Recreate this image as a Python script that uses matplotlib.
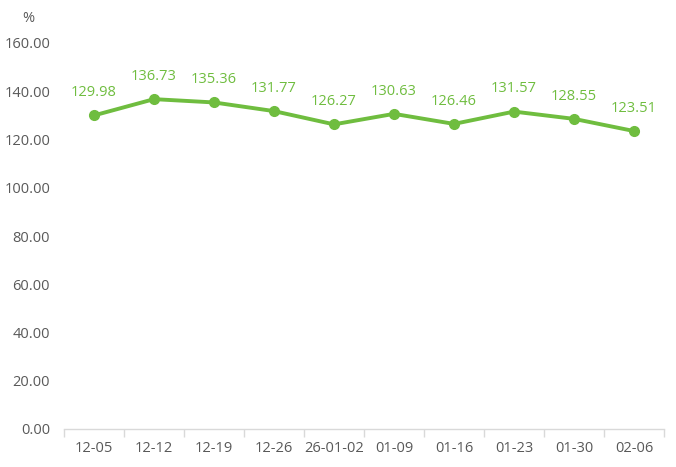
import matplotlib
matplotlib.use('Agg')
import matplotlib.pyplot as plt

dates = ['12-05', '12-12', '12-19', '12-26', '26-01-02', '01-09', '01-16', '01-23', '01-30', '02-06']
values = [129.98, 136.73, 135.36, 131.77, 126.27, 130.63, 126.46, 131.57, 128.55, 123.51]
y_ticks = [0, 20, 40, 60, 80, 100, 120, 140, 160]

green = '#6fbd3f'
gray = '#595959'
plt.rcParams['font.family'] = ['Open Sans', 'DejaVu Sans']

fig = plt.figure(figsize=(6.76, 4.67), dpi=100)
ax = fig.add_axes([64 / 676, 38 / 467, 600 / 676, 386 / 467])

x = list(range(len(dates)))
ax.plot(x, values, color=green, linewidth=2.8, marker='o', markersize=7, zorder=3)
for xi, v in zip(x, values):
    ax.annotate(f'{v:.2f}', (xi, v), xytext=(0, 11), textcoords='offset points',
                ha='center', va='bottom', color=green, fontsize=10.5)

ax.set_xlim(-0.5, len(dates) - 0.5)
ax.set_ylim(0, 160)
ax.set_yticks(y_ticks)
ax.set_yticklabels([f'{t:.2f}' for t in y_ticks])
ax.set_xticks(x)
ax.set_xticklabels(dates)
ax.set_xticks([i - 0.5 for i in range(len(dates) + 1)], minor=True)

ax.tick_params(axis='x', which='major', length=0, pad=9, labelsize=10.5, labelcolor=gray)
ax.tick_params(axis='x', which='minor', length=6, width=1, color='#d9d9d9', direction='out')
ax.tick_params(axis='y', length=0, pad=10, labelsize=10.5, labelcolor=gray)

for s in ['top', 'right', 'left']:
    ax.spines[s].set_visible(False)
ax.spines['bottom'].set_color('#d9d9d9')
ax.spines['bottom'].set_linewidth(1)

fig.text(28 / 676, 1 - 18 / 467, '%', ha='center', va='center', color=gray, fontsize=10.5)

fig.savefig('out.png', dpi=100)
